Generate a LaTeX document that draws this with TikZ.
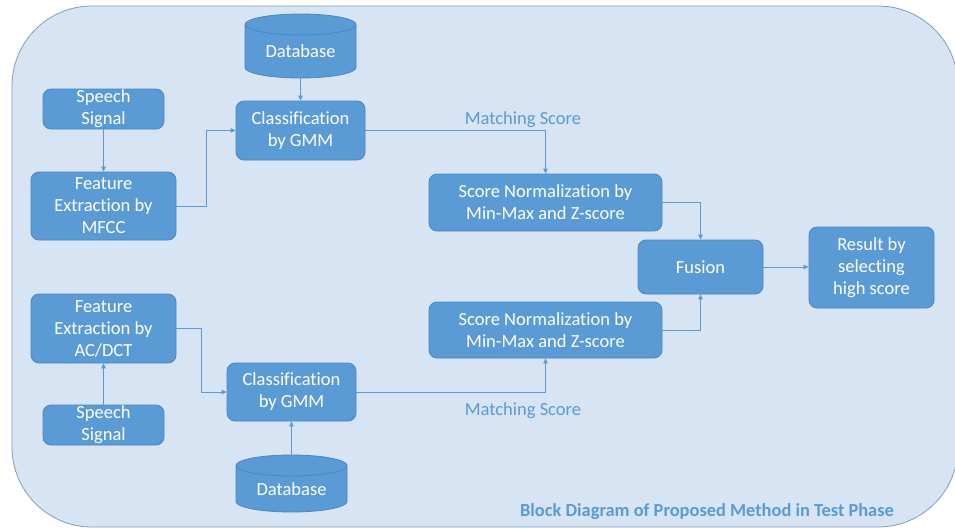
\documentclass[tikz,border=0pt]{standalone}
\usepackage{fontspec}
\setmainfont{Carlito}[Ligatures=NoCommon]
\usetikzlibrary{shapes.geometric,arrows.meta}
\definecolor{bgfill}{HTML}{D6E4F3}
\definecolor{bgline}{HTML}{7F9DBF}
\definecolor{boxfill}{HTML}{5B9BD5}
\definecolor{boxline}{HTML}{4A86C0}
\definecolor{arrowc}{HTML}{5B9BD5}
\definecolor{labelc}{HTML}{5B9BD5}
\begin{document}
\begin{tikzpicture}[x=1pt,y=-1pt,
 box/.style={draw=boxline, fill=boxfill, rounded corners=8pt, text=white, align=center,
   font=\fontsize{18.5}{22}\selectfont, inner sep=0pt, line width=0.8pt},
 db/.style={cylinder, shape border rotate=90, aspect=0.3, draw=boxline, fill=boxfill, text=white,
   font=\fontsize{18.5}{22}\selectfont, inner sep=0pt, line width=0.8pt, anchor=shape center},
 conn/.style={draw=arrowc, line width=0.8pt, -{Triangle[length=5pt,width=4.5pt]}},
 lbl/.style={text=labelc, font=\fontsize{18.5}{22}\selectfont, inner sep=0pt},
 captxt/.style={text=labelc, font=\fontsize{18.4}{22}\selectfont\bfseries, inner sep=0pt}
]
\useasboundingbox (0,0) rectangle (955,530);
\begin{scope}
\clip (0,0) rectangle (955,530);
\draw[draw=bgline, fill=bgfill, line width=0.8pt, rounded corners=80pt] (12,6) rectangle (958,527);
\end{scope}

\node[box, minimum width=121pt, minimum height=40pt] (sp1) at (103.5,109) {Speech\\Signal};
\node[box, minimum width=145pt, minimum height=68pt] (fe1) at (103.5,206) {Feature\\Extraction by\\MFCC};
\node[db, minimum width=111pt, minimum height=64pt] (db1) at (300.5,46) {Database};
\node[box, minimum width=129pt, minimum height=59pt] (cl1) at (300.5,130.5) {Classification\\by GMM};
\node[box, minimum width=233pt, minimum height=57pt] (sn1) at (545.5,202.5) {Score Normalization by\\Min-Max and Z-score};
\node[box, minimum width=125pt, minimum height=54pt] (fu) at (700.5,267) {Fusion};
\node[box, minimum width=125pt, minimum height=81pt] (re) at (871.5,267.5) {Result by\\selecting\\high score};
\node[box, minimum width=233pt, minimum height=56pt] (sn2) at (545.5,330) {Score Normalization by\\Min-Max and Z-score};
\node[box, minimum width=145pt, minimum height=69pt] (fe2) at (103.5,328.5) {Feature\\Extraction by\\AC/DCT};
\node[box, minimum width=121pt, minimum height=40pt] (sp2) at (103.5,425) {Speech\\Signal};
\node[box, minimum width=129pt, minimum height=58pt] (cl2) at (291.5,392) {Classification\\by GMM};
\node[db, minimum width=111pt, minimum height=57pt] (db2) at (291.5,483.5) {Database};

\node[lbl] (ms1) at (523,120) {Matching Score};
\node[lbl] (ms2) at (523,411) {Matching Score};
\node[captxt] (caption) at (707,512) {Block Diagram of Proposed Method in Test Phase};

\draw[conn] (db1.south) -- (db1.south |- cl1.north);
\draw[conn] (sp1.south) -- (fe1.north);
\draw[conn] (fe1.east) -- ++(30,0) |- (cl1.west);
\draw[conn] (cl1.east) -| (sn1.north);
\draw[conn] (sn1.east) -| (fu.north);
\draw[conn] (fu.east) -- (re.west |- fu.east);
\draw[conn] (sn2.east) -| (fu.south);
\draw[conn] (fe2.east) -- ++(25,0) |- (cl2.west);
\draw[conn] (sp2.north) -- (fe2.south);
\draw[conn] (db2.north) -- (db2.north |- cl2.south);
\draw[conn] (cl2.east) -| (sn2.south);
\end{tikzpicture}
\end{document}
